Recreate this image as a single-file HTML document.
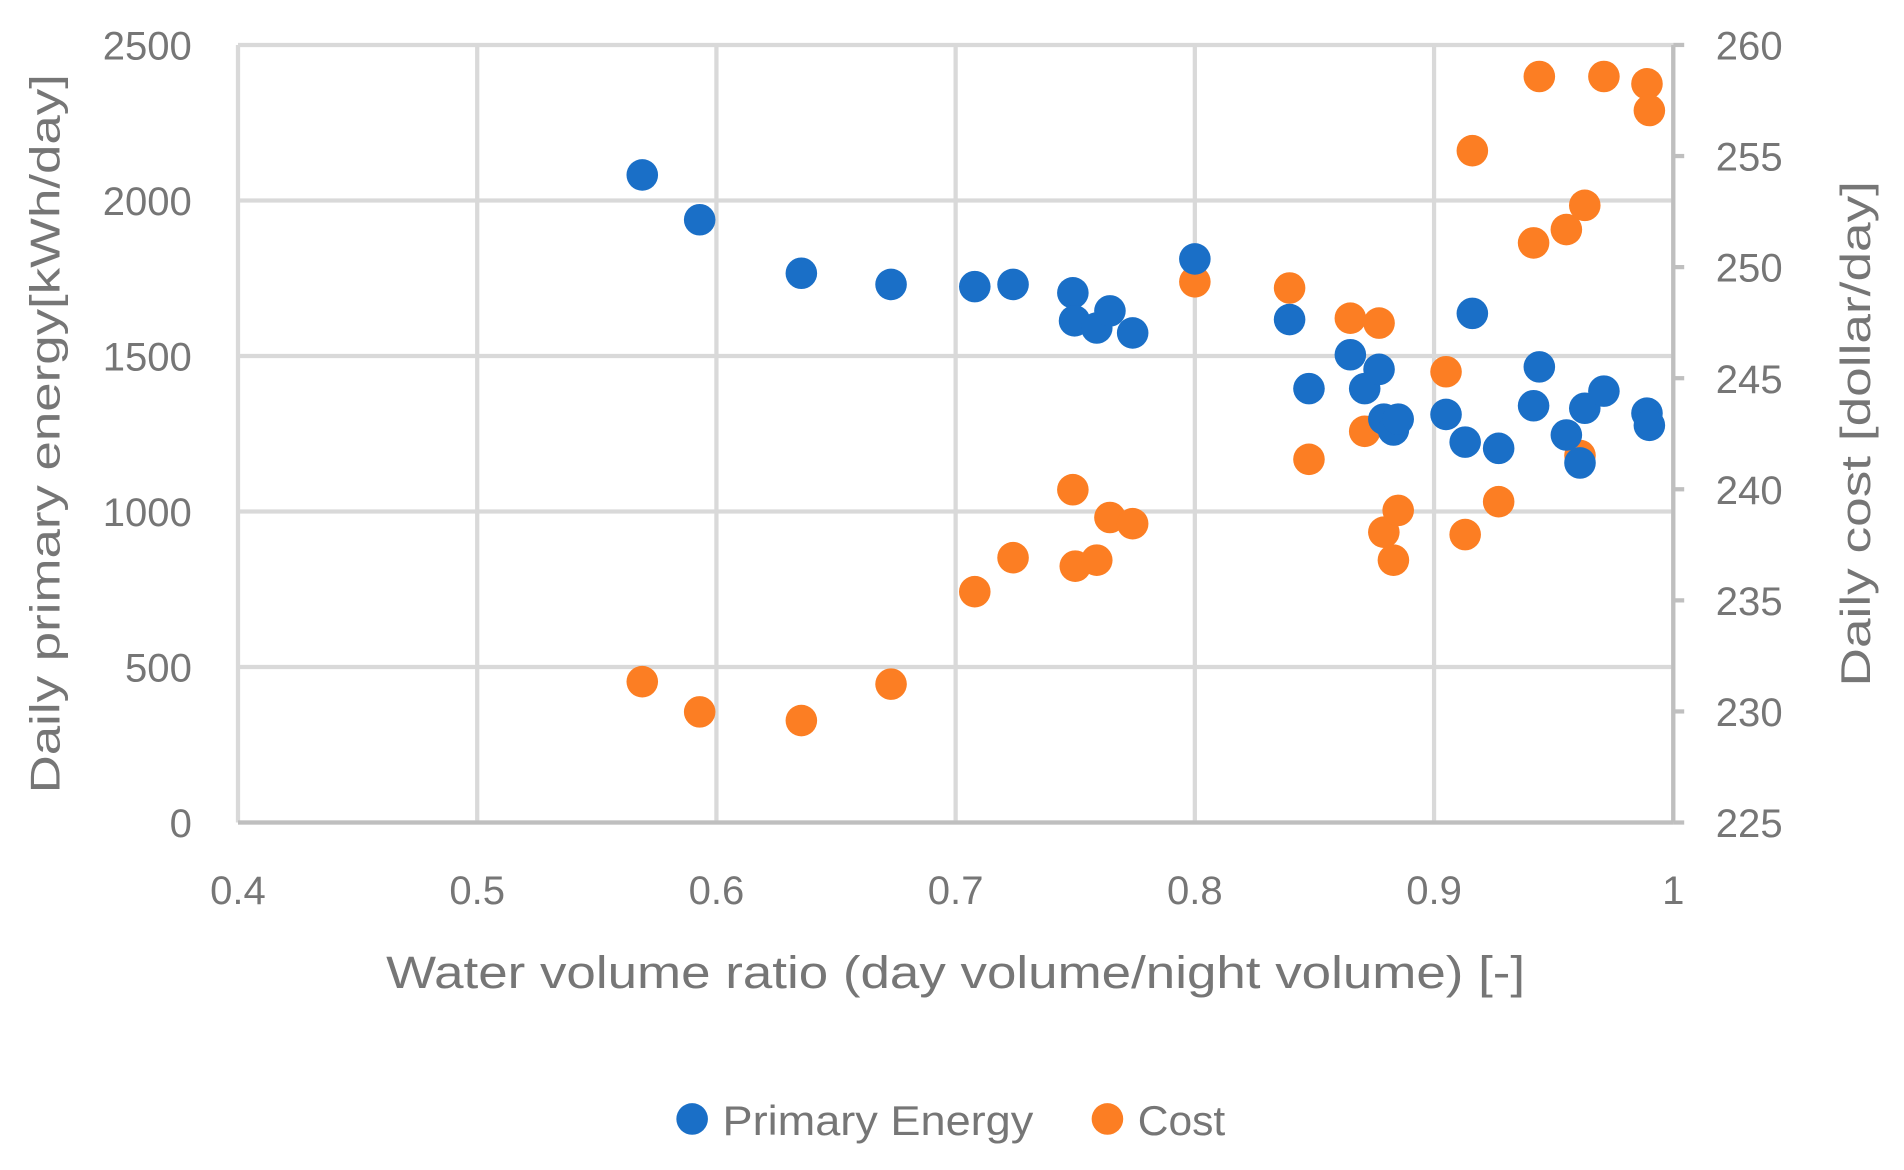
<!DOCTYPE html>
<html><head><meta charset="utf-8"><style>
html,body{margin:0;padding:0;background:#fff}
svg{display:block}
text{font-family:"Liberation Sans",sans-serif;fill:#767676}
</style></head><body>
<svg id="chart" width="1904" height="1170" viewBox="0 0 1568 963" preserveAspectRatio="none" xmlns="http://www.w3.org/2000/svg"></svg>
<script>
const xVals=[0.569,0.593,0.6355,0.673,0.708,0.724,0.749,0.7497,0.759,0.7645,0.774,0.800,0.8396,0.8477,0.865,0.871,0.877,0.879,0.883,0.885,0.905,0.913,0.916,0.927,0.9416,0.944,0.9553,0.961,0.963,0.971,0.989,0.990];
const energyVals=[2082,1938,1766,1730,1723,1730,1703,1613,1590,1645,1574,1812,1617,1395,1504,1395,1457,1297,1262,1297,1312,1223,1637,1203,1340,1465,1246,1156,1332,1387,1316,1277];
const costX=[0.569,0.593,0.6355,0.673,0.708,0.724,0.749,0.750,0.759,0.7645,0.774,0.800,0.8396,0.8477,0.865,0.871,0.877,0.879,0.883,0.885,0.905,0.913,0.916,0.927,0.9416,0.944,0.9553,0.961,0.963,0.971,0.989,0.990];
const costVals=[231.34,229.98,229.59,231.23,235.39,236.92,239.98,236.54,236.81,238.73,238.45,249.34,249.06,241.35,247.70,242.61,247.48,238.07,236.81,239.05,245.29,237.96,255.24,239.44,251.09,258.58,251.69,241.52,252.78,258.58,258.25,257.05];
const xTicks=[0.4,0.5,0.6,0.7,0.8,0.9,1];
const xTickLabels=["0.4","0.5","0.6","0.7","0.8","0.9","1"];
const yTicks=[0,500,1000,1500,2000,2500];
const y2Ticks=[225,230,235,240,245,250,255,260];

const L=196,R=1378,T=37,B=677;
const sx=v=>L+(v-0.4)/0.6*(R-L);
const sy=v=>B-v/2500*(B-T);
const sy2=v=>B-(v-225)/35*(B-T);
const svg=document.getElementById('chart');
const NS='http://www.w3.org/2000/svg';
function mk(tag,attrs,txt){const e=document.createElementNS(NS,tag);for(const k in attrs)e.setAttribute(k,attrs[k]);if(txt!=null)e.textContent=txt;svg.appendChild(e);return e;}

xTicks.forEach((t,i)=>{
  const g=mk('line',{x1:sx(t),x2:sx(t),y1:T,y2:B,stroke:'#d9d9d9','stroke-width':3.5});
  
  
  const l=mk('text',{x:sx(t),y:744,'text-anchor':'middle','font-size':33},xTickLabels[i]);
  
  
});
yTicks.forEach(t=>{
  const g=mk('line',{x1:L,x2:R,y1:sy(t),y2:sy(t),stroke:'#d9d9d9','stroke-width':3.5});
  
  
  const l=mk('text',{x:158,y:sy(t)+12,'text-anchor':'end','font-size':33},String(t));
  
  
});
y2Ticks.forEach(t=>{
  const k=mk('line',{x1:R,x2:R+9,y1:sy2(t),y2:sy2(t),stroke:'#bfbfbf','stroke-width':3.5});
  
  
  const l=mk('text',{x:1413,y:sy2(t)+12,'text-anchor':'start','font-size':33},String(t));
  
  
});
let a=mk('line',{x1:L,x2:R,y1:B,y2:B,stroke:'#bfbfbf','stroke-width':3.5});

a=mk('line',{x1:R,x2:R,y1:T,y2:B,stroke:'#bfbfbf','stroke-width':3.5});


costX.forEach((x,i)=>{
  const c=mk('circle',{cx:sx(x),cy:sy2(costVals[i]),r:13,fill:'#fc7e23'});
  
  
});
xVals.forEach((x,i)=>{
  const c=mk('circle',{cx:sx(x),cy:sy(energyVals[i]),r:13,fill:'#1a6fc7'});
  
  
});
</script>
<svg style="position:absolute;left:0;top:0" width="1904" height="1170" viewBox="0 0 1568 963" preserveAspectRatio="none" xmlns="http://www.w3.org/2000/svg">
<text x="787" y="813" text-anchor="middle" font-size="37" textLength="938" lengthAdjust="spacingAndGlyphs">Water volume ratio (day volume/night volume) [-]</text>
<text transform="translate(49,357) rotate(-90)" text-anchor="middle" font-size="34" textLength="592" lengthAdjust="spacingAndGlyphs">Daily primary energy[kWh/day]</text>
<text transform="translate(1540,357) rotate(-90)" text-anchor="middle" font-size="34" textLength="416" lengthAdjust="spacingAndGlyphs">Daily cost [dollar/day]</text>
<g>
<circle cx="570" cy="921" r="13" fill="#1a6fc7"/>
<text x="595" y="934" font-size="34" textLength="256" lengthAdjust="spacingAndGlyphs">Primary Energy</text>
<circle cx="912" cy="921" r="13" fill="#fc7e23"/>
<text x="937" y="934" font-size="34" textLength="72" lengthAdjust="spacingAndGlyphs">Cost</text>
</g>
</svg>
</body></html>
